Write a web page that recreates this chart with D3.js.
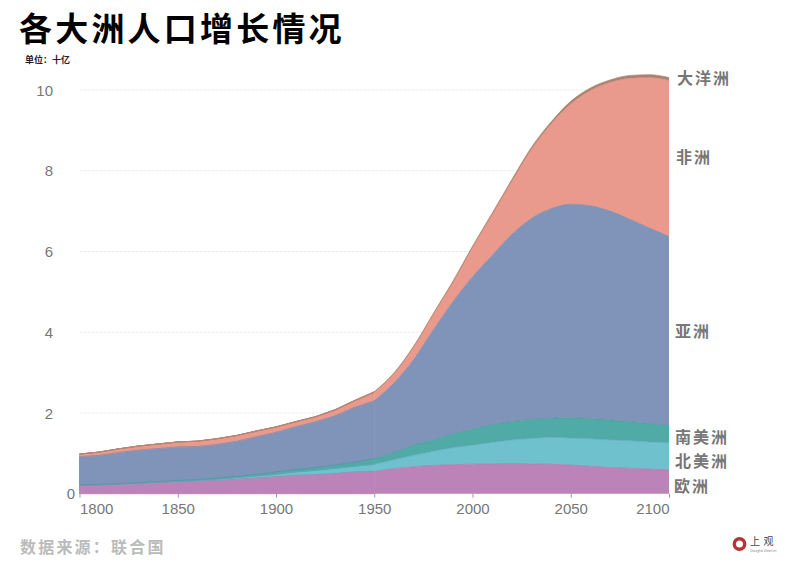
<!DOCTYPE html>
<html>
<head>
<meta charset="utf-8">
<script src="https://cdn.jsdelivr.net/npm/d3@7"></script>
<style>
  body { margin: 0; background: #fff; }
  text { font-family: "Noto Sans CJK SC", sans-serif; }
  .tick text { font-family: "Liberation Sans", sans-serif; font-size: 15px; fill: #777; }
</style>
</head>
<body>
<svg id="chart" width="800" height="564"></svg>
<script>
var years = d3.range(1800, 2101, 10);

// Billions, one value per decade
var europe = [.20,.21,.23,.25,.27,.29,.31,.33,.36,.39,.42,.46,.47,.50,.54,.55,.62,.67,.70,.72,.73,.74,.75,.74,.73,.71,.68,.65,.63,.61,.59];
var northAmerica = [.01,.01,.01,.01,.02,.02,.02,.03,.04,.05,.06,.08,.11,.13,.14,.18,.22,.28,.35,.42,.47,.53,.58,.63,.66,.67,.68,.68,.68,.67,.67];
var southAmerica = [.01,.01,.01,.01,.01,.02,.02,.03,.03,.04,.06,.06,.07,.08,.10,.14,.18,.25,.28,.34,.40,.44,.46,.47,.48,.50,.50,.50,.47,.46,.43];
var asia = [.70,.72,.77,.81,.82,.83,.82,.83,.87,.93,.98,1.06,1.13,1.22,1.36,1.43,1.72,2.12,2.72,3.27,3.77,4.19,4.63,4.98,5.19,5.29,5.27,5.17,5.02,4.84,4.68];
var africa = [.06,.08,.09,.10,.11,.12,.13,.14,.14,.14,.13,.12,.12,.14,.16,.21,.23,.31,.39,.48,.73,1.01,1.32,1.71,2.10,2.49,2.86,3.19,3.49,3.73,3.87];
var oceania = [.002,.002,.002,.002,.002,.003,.003,.004,.004,.005,.006,.007,.009,.01,.01,.015,.02,.02,.02,.03,.03,.04,.04,.05,.05,.06,.06,.06,.07,.07,.07];

var seriesKeys = ["europe", "northAmerica", "southAmerica", "asia", "africa", "oceania"];
var seriesColors = ["#bb83b8", "#70c1ce", "#50aaa6", "#8094ba", "#ea9a8c", "#a8806e"];
var lineColors = ["#a878ac", "#5fa9bb", "#4a97a0", "#7488ab", "#c98a7c", "#b08672"];
var yTicks = [0, 2, 4, 6, 8, 10];
var xTicks = [1800, 1850, 1900, 1950, 2000, 2050, 2100];
var kinkYear = 1950;

var labelNames = ["大洋洲", "非洲", "亚洲", "南美洲", "北美洲", "欧洲"];
var labelValues = [10.28, 8.34, 4.03, 1.41, 0.8, 0.19];

var rows = years.map(function(year, i) {
  return {
    year: year,
    europe: europe[i],
    northAmerica: northAmerica[i],
    southAmerica: southAmerica[i],
    asia: asia[i],
    africa: africa[i],
    oceania: oceania[i]
  };
});

var svg = d3.select("#chart");
var x = d3.scaleLinear().domain([1800, 2100]).range([79.5, 669]);
var y = d3.scaleLinear().domain([0, 10]).range([493.7, 90]);

// Grid goes under the areas
svg.append("g")
  .selectAll("line")
  .data(yTicks.slice(1))
  .enter().append("line")
    .attr("x1", x(1800))
    .attr("x2", x(2100))
    .attr("y1", function(d) { return y(d); })
    .attr("y2", function(d) { return y(d); })
    .attr("stroke", "#e6e6e6")
    .attr("stroke-width", 0.8)
    .attr("stroke-dasharray", "3,1");

var stack = d3.stack().keys(seriesKeys);
var layers = stack(rows);

// Straight up to 1950, where the picture has a hard bend, smooth after it.
// seamWidth strokes the fill so the two parts overlap at the join.
function drawPart(part, curve, seamWidth) {
  var area = d3.area()
    .curve(curve)
    .x(function(d) { return x(d.data.year); })
    .y0(function(d) { return y(d[0]); })
    .y1(function(d) { return y(d[1]); });
  var topLine = d3.line()
    .curve(curve)
    .x(function(d) { return x(d.data.year); })
    .y(function(d) { return y(d[1]); });
  var pieces = layers.map(function(layer) { return layer.filter(part); });

  svg.append("g")
    .selectAll("path")
    .data(pieces)
    .enter().append("path")
      .attr("d", area)
      .attr("fill", function(d, i) { return seriesColors[i]; })
      .attr("stroke", function(d, i) { return seriesColors[i]; })
      .attr("stroke-width", seamWidth);

  svg.append("g")
    .selectAll("path")
    .data(pieces)
    .enter().append("path")
      .attr("d", topLine)
      .attr("fill", "none")
      .attr("stroke", function(d, i) { return lineColors[i]; })
      .attr("stroke-width", 0.7);
}

drawPart(function(d) { return d.data.year <= kinkYear; }, d3.curveLinear, 1);
drawPart(function(d) { return d.data.year >= kinkYear; }, d3.curveMonotoneX, 0);

// Axes
var xAxis = svg.append("g")
  .attr("transform", "translate(0," + y(0) + ")")
  .call(d3.axisBottom(x).tickValues(xTicks).tickFormat(d3.format("d")).tickSize(4).tickPadding(6));
xAxis.select(".domain").remove();
xAxis.selectAll(".tick line").attr("stroke", "#999");
xAxis.selectAll(".tick text").attr("text-anchor", function(d) {
  if (d == 1800) return "start";
  if (d == 2100) return "end";
  return "middle";
});

var yAxis = svg.append("g")
  .attr("transform", "translate(53,0)")
  .call(d3.axisLeft(y).tickValues(yTicks).tickSize(0).tickPadding(0));
yAxis.select(".domain").remove();
yAxis.selectAll(".tick text")
  .attr("dy", "0.34em")
  .attr("x", function(d) { return d == 0 ? 22 : 0; });

// Continent names on the right
svg.append("g")
  .selectAll("text")
  .data(labelNames)
  .enter().append("text")
    .attr("x", function(d, i) { return [677, 676, 675, 675, 675, 674][i]; })
    .attr("y", function(d, i) { return y(labelValues[i]); })
    .attr("dy", "0.36em")
    .attr("font-size", 16)
    .attr("font-weight", 700)
    .attr("letter-spacing", 2)
    .attr("fill", "#777")
    .text(function(d) { return d; });

// Title and notes
svg.append("text")
  .attr("x", 19)
  .attr("y", 41)
  .attr("font-size", 33)
  .attr("font-weight", 700)
  .attr("letter-spacing", 3.2)
  .attr("fill", "#000")
  .text("各大洲人口增长情况");

svg.append("text")
  .attr("x", 25)
  .attr("y", 63)
  .attr("font-size", 9)
  .attr("font-weight", 700)
  .attr("fill", "#222")
  .text("单位：十亿");

svg.append("text")
  .attr("x", 20)
  .attr("y", 553)
  .attr("font-size", 16)
  .attr("font-weight", 700)
  .attr("letter-spacing", 2.2)
  .attr("fill", "#bbb")
  .text("数据来源：联合国");

// Logo
svg.append("circle")
  .attr("cx", 739.5)
  .attr("cy", 544)
  .attr("r", 5.2)
  .attr("fill", "none")
  .attr("stroke", "#b5343a")
  .attr("stroke-width", 3.4);
svg.append("text")
  .attr("x", 750)
  .attr("y", 545)
  .attr("font-size", 10)
  .attr("letter-spacing", 3.5)
  .attr("fill", "#444")
  .text("上观");
svg.append("text")
  .attr("x", 750)
  .attr("y", 552)
  .attr("font-size", 3)
  .attr("fill", "#888")
  .text("Shanghai Observer");
</script>
</body>
</html>
